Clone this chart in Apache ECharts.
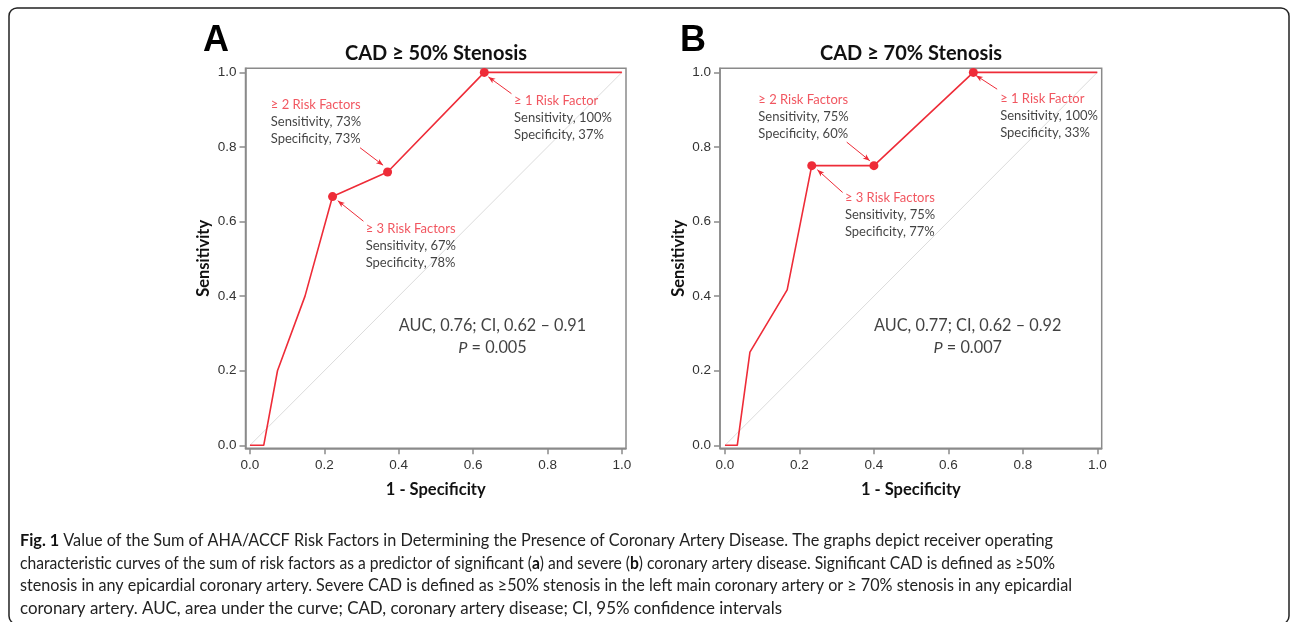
<!DOCTYPE html>
<html><head><meta charset="utf-8">
<script src="https://cdn.jsdelivr.net/npm/echarts@6/dist/echarts.min.js"></script>
<style>html,body{margin:0;padding:0;background:#fff}#c{width:1290px;height:622px}</style>
</head><body><div id="c"></div>
<script>
// ---------- data ----------
const tickValues = [0, 0.2, 0.4, 0.6, 0.8, 1.0];
const panelLetters = ['A', 'B'];
const panelTitles = ['CAD ≥ 50% Stenosis', 'CAD ≥ 70% Stenosis'];
const xAxisTitle = '1 - Specificity';
const yAxisTitle = 'Sensitivity';

// Panel A (CAD >= 50%)
const rocA_fpr = [0, 0.037, 0.074, 0.148, 0.222, 0.37, 0.63, 1];
const rocA_tpr = [0, 0, 0.2, 0.4, 0.667, 0.733, 1, 1];
const cutA_fpr = [0.222, 0.37, 0.63];
const cutA_tpr = [0.667, 0.733, 1.0];
const cutNames = ['≥ 3 Risk Factors', '≥ 2 Risk Factors', '≥ 1 Risk Factor'];
const cutA_sens = [67, 73, 100];
const cutA_spec = [78, 73, 37];
const statsA_auc = 'AUC, 0.76; CI, 0.62 – 0.91';
const statsA_p = '0.005';

// Panel B (CAD >= 70%)
const rocB_fpr = [0, 0.033, 0.067, 0.167, 0.233, 0.4, 0.667, 1];
const rocB_tpr = [0, 0, 0.25, 0.417, 0.75, 0.75, 1, 1];
const cutB_fpr = [0.233, 0.4, 0.667];
const cutB_tpr = [0.75, 0.75, 1.0];
const cutB_sens = [75, 75, 100];
const cutB_spec = [77, 60, 33];
const statsB_auc = 'AUC, 0.77; CI, 0.62 – 0.92';
const statsB_p = '0.007';

const captionLines = [
  '{b|Fig. 1} Value of the Sum of AHA/ACCF Risk Factors in Determining the Presence of Coronary Artery Disease. The graphs depict receiver operating',
  'characteristic curves of the sum of risk factors as a predictor of significant ({b|a}) and severe ({b|b}) coronary artery disease. Significant CAD is defined as ≥50%',
  'stenosis in any epicardial coronary artery. Severe CAD is defined as ≥50% stenosis in the left main coronary artery or ≥ 70% stenosis in any epicardial',
  'coronary artery. AUC, area under the curve; CAD, coronary artery disease; CI, 95% confidence intervals'
];

// ---------- layout ----------
const captionRight = [1053, 1055, 1072, 782];   // right end of each caption line (px)
const layout = [
  { grid: {left: 245.5, right: 664, top: 68.3, bottom: 173.7}, xr: [-0.012, 1.011], yr: [-0.008, 1.011],
    letterX: 203, titleX: 436,
    labelPos: [[0.311, 0.535], [0.056, 0.868], [0.710, 0.877]],
    arrows: [[[0.305, 0.601], [0.236, 0.656]], [[0.296, 0.798], [0.358, 0.751]], [[0.703, 0.943], [0.641, 0.988]]],
    statsPos: [0.652, 0.291] },
  { grid: {left: 720, right: 188.3, top: 68.3, bottom: 173.7}, xr: [-0.0134, 1.0118], yr: [-0.008, 1.011],
    letterX: 680, titleX: 911,
    labelPos: [[0.322, 0.618], [0.0894, 0.881], [0.739, 0.884]],
    arrows: [[[0.316, 0.678], [0.248, 0.739]], [[0.327, 0.813], [0.389, 0.763]], [[0.731, 0.955], [0.674, 0.992]]],
    statsPos: [0.652, 0.291] }
];

const RED = '#ee2c38';
const FRAME = '#8a8a8a';
const SANS = 'Lato, "Open Sans", sans-serif';
const ARIAL = '"Liberation Sans", Arial, sans-serif';
const CAP_FONT = 'Lato, "Open Sans", sans-serif';
const CAP_SIZE = 17;

const panels = [
  { fpr: rocA_fpr, tpr: rocA_tpr, cx: cutA_fpr, cy: cutA_tpr, sens: cutA_sens, spec: cutA_spec, auc: statsA_auc, p: statsA_p },
  { fpr: rocB_fpr, tpr: rocB_tpr, cx: cutB_fpr, cy: cutB_tpr, sens: cutB_sens, spec: cutB_spec, auc: statsB_auc, p: statsB_p }
];

const zip = (a, b) => a.map((v, i) => [v, b[i]]);

const grids = [], xAxes = [], yAxes = [], series = [];
panels.forEach((pn, k) => {
  const L = layout[k];
  grids.push(Object.assign({ show: true, borderColor: FRAME, borderWidth: 1.5, backgroundColor: 'transparent' }, L.grid));
  xAxes.push({
    gridIndex: k, type: 'value', min: L.xr[0], max: L.xr[1],
    axisLine: { show: true, onZero: false, lineStyle: { color: FRAME, width: 1.5 } },
    axisTick: { show: true, customValues: tickValues, length: 6, lineStyle: { color: FRAME, width: 1.5 } },
    axisLabel: { customValues: tickValues, formatter: v => v.toFixed(1), color: '#333', fontFamily: ARIAL, fontSize: 13.5, margin: 10 },
    splitLine: { show: false },
    name: xAxisTitle, nameLocation: 'middle', nameGap: 33,
    nameTextStyle: { fontFamily: SANS, fontWeight: 'bold', fontSize: 16.5, color: '#111' }
  });
  yAxes.push({
    gridIndex: k, type: 'value', min: L.yr[0], max: L.yr[1],
    axisLine: { show: true, onZero: false, lineStyle: { color: FRAME, width: 1.5 } },
    axisTick: { show: true, customValues: tickValues, length: 6, lineStyle: { color: FRAME, width: 1.5 } },
    axisLabel: { customValues: tickValues, formatter: v => v.toFixed(1), color: '#333', fontFamily: ARIAL, fontSize: 13.5, margin: 9 },
    splitLine: { show: false },
    name: yAxisTitle, nameLocation: 'middle', nameGap: 33, nameRotate: 90,
    nameTextStyle: { fontFamily: SANS, fontWeight: 'bold', fontSize: 16.5, color: '#111' }
  });
  series.push({ type: 'line', xAxisIndex: k, yAxisIndex: k, data: [[0, 0], [1, 1]], showSymbol: false, silent: true,
    lineStyle: { color: '#dcdcdc', width: 1 }, z: 1 });
  series.push({ type: 'line', xAxisIndex: k, yAxisIndex: k, data: zip(pn.fpr, pn.tpr), showSymbol: false, silent: true,
    lineStyle: { color: RED, width: 1.6 }, z: 3 });
  series.push({ type: 'scatter', xAxisIndex: k, yAxisIndex: k, data: zip(pn.cx, pn.cy), symbolSize: 9, silent: true,
    itemStyle: { color: RED, opacity: 1 }, z: 4 });
  series.push({ type: 'scatter', xAxisIndex: k, yAxisIndex: k, symbolSize: 0, silent: true, z: 5,
    data: L.labelPos.map((pos, i) => ({ value: pos, name: cutNames[i], sens: pn.sens[i], spec: pn.spec[i] })),
    label: { show: true, position: 'right', distance: 0, align: 'left',
      formatter: prm => '{r|' + prm.data.name + '}\n{k|Sensitivity, ' + prm.data.sens + '%}\n{k|Specificity, ' + prm.data.spec + '%}',
      rich: { r: { color: RED, fontFamily: SANS, fontSize: 13, lineHeight: 17 },
              k: { color: '#111', fontFamily: SANS, fontSize: 13, lineHeight: 17 } } },
    markLine: { silent: true, symbol: ['none', 'arrow'], symbolSize: [4, 7], animation: false,
      label: { show: false }, lineStyle: { color: RED, width: 1, type: 'solid' },
      emphasis: { disabled: true },
      data: L.arrows.map(a => [{ coord: a[0] }, { coord: a[1] }]) }
  });
  series.push({ type: 'scatter', xAxisIndex: k, yAxisIndex: k, symbolSize: 0, silent: true, z: 5,
    data: [{ value: L.statsPos }],
    label: { show: true, position: 'inside', align: 'center', verticalAlign: 'middle',
      formatter: () => '{t|' + pn.auc + '}\n{i|P}{t| = ' + pn.p + '}',
      rich: { t: { color: '#111', fontFamily: SANS, fontSize: 16.3, lineHeight: 22, align: 'center' },
              i: { color: '#111', fontFamily: SANS, fontSize: 16.3, lineHeight: 22, fontStyle: 'italic', align: 'center' } } }
  });
});

// measure caption lines to fit each to its width in the reference
const mctx = document.createElement('canvas').getContext('2d');
function measureLine(line) {
  let w = 0;
  line.split(/(\{b\|[^}]*\})/).forEach(seg => {
    if (!seg) return;
    const m = seg.match(/^\{b\|([^}]*)\}$/);
    mctx.font = (m ? 'bold ' : '') + CAP_SIZE + 'px ' + CAP_FONT;
    w += mctx.measureText(m ? m[1] : seg).width;
  });
  return w;
}

const graphics = [
  { type: 'rect', shape: { x: 9, y: 8, width: 1280, height: 616, r: 8 }, style: { fill: 'none', stroke: '#222', lineWidth: 1.5 }, silent: true }
];
captionLines.forEach((line, i) => {
  const sx = (captionRight[i] - 20) / measureLine(line);
  graphics.push({ type: 'text', x: 20, y: 541 + i * 22.5, scaleX: sx, silent: true,
    style: { text: line, fill: '#222', fontFamily: CAP_FONT, fontSize: CAP_SIZE, verticalAlign: 'middle',
      rich: { b: { fontWeight: 'bold', fontFamily: CAP_FONT, fontSize: CAP_SIZE, fill: '#111' } } } });
});
layout.forEach((L, k) => {
  graphics.push({ type: 'text', x: L.letterX, y: 41.5, silent: true,
    style: { text: panelLetters[k], fill: '#000', font: 'bold 36px "Liberation Sans", Arial, sans-serif', verticalAlign: 'middle' } });
  graphics.push({ type: 'text', x: L.titleX, y: 53.5, silent: true,
    style: { text: panelTitles[k], fill: '#111', fontFamily: SANS, fontWeight: 'bold', fontSize: 20, align: 'center', verticalAlign: 'middle' } });
});

const chart = echarts.init(document.getElementById('c'), null, { renderer: 'canvas' });
chart.setOption({
  animation: false,
  backgroundColor: '#fff',
  grid: grids, xAxis: xAxes, yAxis: yAxes, series: series, graphic: graphics
});
</script></body></html>
